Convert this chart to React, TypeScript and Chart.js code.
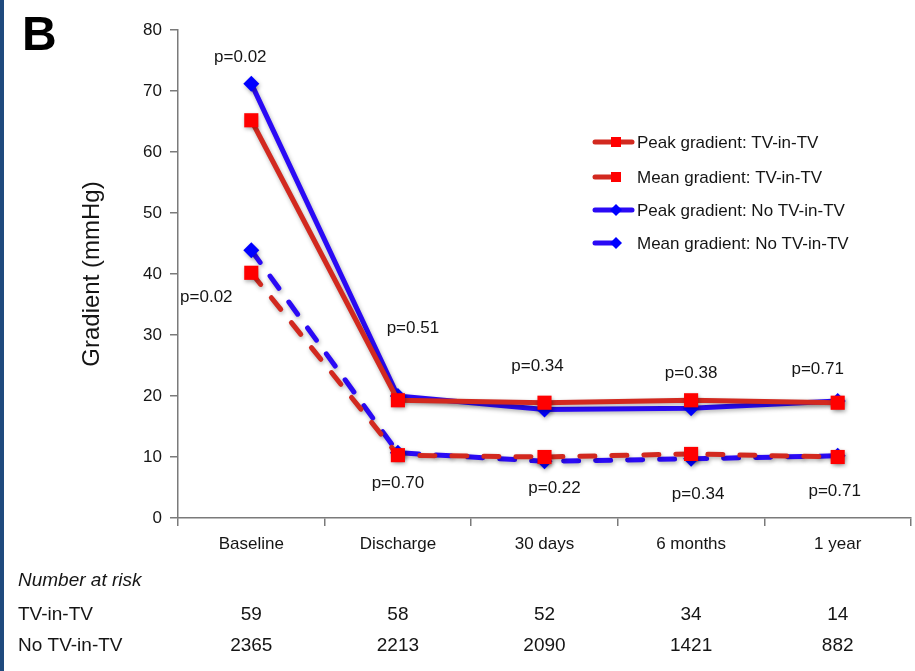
import React, { useEffect, useRef } from "react";
import { Chart, registerables } from "chart.js";

Chart.register(...registerables);

const categories = ["Baseline", "Discharge", "30 days", "6 months", "1 year"];
const peakTV = [65.2, 19.3, 18.9, 19.3, 18.9];
const meanTV = [40.2, 10.3, 10.0, 10.5, 10.0];
const peakNoTV = [71.2, 20.0, 17.8, 18.0, 19.2];
const meanNoTV = [43.9, 10.7, 9.3, 9.7, 10.2];
const seriesNames = [
  "Peak gradient: TV-in-TV",
  "Mean gradient: TV-in-TV",
  "Peak gradient: No TV-in-TV",
  "Mean gradient: No TV-in-TV",
];
const yTicks = [0, 10, 20, 30, 40, 50, 60, 70, 80];

const pLabels = ["p=0.02", "p=0.02", "p=0.51", "p=0.70", "p=0.34", "p=0.22", "p=0.38", "p=0.34", "p=0.71", "p=0.71"];
const pCategoryIndex = [0, 0, 1, 1, 2, 2, 3, 3, 4, 4];
const pValueAt = [75.6, 36.1, 31.1, 5.7, 24.9, 4.9, 23.8, 3.9, 24.3, 4.4];
const pShiftX = [-11, -45, 15, 0, -7, 10, 0, 7, -20, -3];

const riskGroups = ["TV-in-TV", "No TV-in-TV"];
const riskTV = [59, 58, 52, 34, 14];
const riskNoTV = [2365, 2213, 2090, 1421, 882];

const RED_LINE = "#D2291F";
const RED_MARK = "#FF0000";
const BLUE_LINE = "#2A0AF5";
const BLUE_MARK = "#0000FF";
const TEXT = "#151515";
const FONT = "'Liberation Sans', Arial, sans-serif";

const shadowPlugin = {
  id: "shadow",
  beforeDatasetsDraw(chart: any) {
    const ctx = chart.ctx as CanvasRenderingContext2D;
    ctx.save();
    ctx.shadowColor = "rgba(0,0,0,0.3)";
    ctx.shadowBlur = 4;
    ctx.shadowOffsetX = 1;
    ctx.shadowOffsetY = 2;
  },
  afterDatasetsDraw(chart: any) {
    chart.ctx.restore();
  },
};

const overlayPlugin = {
  id: "overlay",
  afterDraw(chart: any) {
    const ctx = chart.ctx as CanvasRenderingContext2D;
    const xs = chart.scales.x;
    const ys = chart.scales.y;
    ctx.save();
    ctx.fillStyle = "#1F4A7E";
    ctx.fillRect(0, 0, 4, chart.height);
    ctx.fillStyle = "#000";
    ctx.font = `bold 48px ${FONT}`;
    ctx.textAlign = "left";
    ctx.textBaseline = "alphabetic";
    ctx.fillText("B", 22, 50);

    ctx.font = `17px ${FONT}`;
    ctx.fillStyle = TEXT;
    ctx.textAlign = "center";
    ctx.textBaseline = "middle";
    pLabels.forEach((t, i) => {
      const x = xs.getPixelForValue(pCategoryIndex[i]) + pShiftX[i];
      const y = ys.getPixelForValue(pValueAt[i]);
      ctx.fillText(t, x, y);
    });

    ctx.textAlign = "left";
    ctx.font = `italic 19px ${FONT}`;
    ctx.fillText("Number at risk", 18, 581);
    ctx.font = `19px ${FONT}`;
    ctx.fillText(riskGroups[0], 18, 615);
    ctx.fillText(riskGroups[1], 18, 646);
    ctx.textAlign = "center";
    categories.forEach((_, i) => {
      const x = xs.getPixelForValue(i);
      ctx.fillText(String(riskTV[i]), x, 615);
      ctx.fillText(String(riskNoTV[i]), x, 646);
    });

    const rowsY = [142, 177, 210, 243];
    const lineCol = [RED_LINE, RED_LINE, BLUE_LINE, BLUE_LINE];
    const markCol = [RED_MARK, RED_MARK, BLUE_MARK, BLUE_MARK];
    rowsY.forEach((y, i) => {
      const solid = i % 2 === 0;
      ctx.strokeStyle = lineCol[i];
      ctx.lineWidth = 5;
      ctx.lineCap = "round";
      ctx.beginPath();
      ctx.moveTo(595, y);
      ctx.lineTo(solid ? 632 : 612, y);
      ctx.stroke();
      ctx.fillStyle = markCol[i];
      const mx = 616;
      if (i < 2) {
        ctx.fillRect(mx - 5, y - 5, 10, 10);
      } else {
        ctx.beginPath();
        ctx.moveTo(mx, y - 6);
        ctx.lineTo(mx + 6, y);
        ctx.lineTo(mx, y + 6);
        ctx.lineTo(mx - 6, y);
        ctx.closePath();
        ctx.fill();
      }
      ctx.fillStyle = TEXT;
      ctx.font = `17px ${FONT}`;
      ctx.textAlign = "left";
      ctx.textBaseline = "middle";
      ctx.fillText(seriesNames[i], 637, y + 1);
    });
    ctx.restore();
  },
};

export default function App() {
  const ref = useRef<HTMLCanvasElement | null>(null);
  useEffect(() => {
    if (!ref.current) return;
    const mk = (label: string, data: number[], line: string, mark: string, dashed: boolean, style: any, r: number) => ({
      label,
      data,
      borderColor: line,
      backgroundColor: mark,
      pointBackgroundColor: mark,
      pointBorderColor: mark,
      pointBorderWidth: 0,
      pointStyle: style,
      pointRadius: r,
      borderWidth: 5,
      borderDash: dashed ? [15, 17] : [],
      borderCapStyle: "round" as const,
      borderJoinStyle: "round" as const,
      tension: 0,
      fill: false,
    });
    const chart = new Chart(ref.current, {
      type: "line",
      data: {
        labels: categories,
        datasets: [
          mk(seriesNames[0], peakTV, RED_LINE, RED_MARK, false, "rect", 10),
          mk(seriesNames[1], meanTV, RED_LINE, RED_MARK, true, "rect", 10),
          mk(seriesNames[2], peakNoTV, BLUE_LINE, BLUE_MARK, false, "rectRot", 8),
          mk(seriesNames[3], meanNoTV, BLUE_LINE, BLUE_MARK, true, "rectRot", 8),
        ],
      },
      options: {
        animation: false,
        responsive: false,
        layout: { autoPadding: false, padding: { left: 74, top: 30, right: 4, bottom: 113 } },
        plugins: { legend: { display: false }, tooltip: { enabled: false }, title: { display: false } },
        scales: {
          x: {
            type: "category",
            offset: true,
            grid: { offset: true, drawOnChartArea: false, drawTicks: true, tickLength: 8, color: "#7a7a7a", lineWidth: 1.5 },
            border: { color: "#7a7a7a", width: 1.5 },
            ticks: { color: TEXT, font: { family: FONT, size: 17 }, padding: 8, maxRotation: 0, autoSkip: false },
            afterFit: (s: any) => { s.height = 40; s.paddingLeft = 0; s.paddingRight = 0; },
          },
          y: {
            min: 0,
            max: 80,
            afterBuildTicks: (s: any) => { s.ticks = yTicks.map((v) => ({ value: v })); },
            grid: { drawOnChartArea: false, drawTicks: true, tickLength: 8, color: "#7a7a7a", lineWidth: 1.5 },
            border: { color: "#7a7a7a", width: 1.5 },
            ticks: { color: TEXT, font: { family: FONT, size: 17 }, padding: 8 },
            title: { display: true, text: "Gradient (mmHg)", color: TEXT, font: { family: FONT, size: 24 }, padding: { top: 4, bottom: 4 } },
            afterFit: (s: any) => { s.width = 104; },
          },
        },
      },
      plugins: [shadowPlugin, overlayPlugin],
    });
    return () => chart.destroy();
  }, []);
  return (
    <div style={{ position: "absolute", left: 0, top: 0, width: 915, height: 671, background: "#fff" }}>
      <canvas ref={ref} width={915} height={671} style={{ display: "block", width: 915, height: 671 }} />
    </div>
  );
}
